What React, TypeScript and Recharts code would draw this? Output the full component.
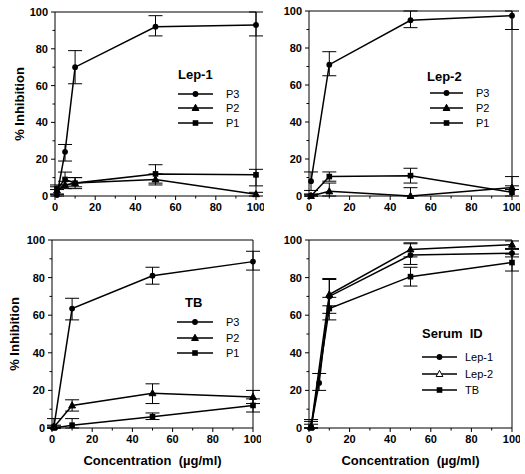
import { LineChart, Line, XAxis, YAxis, ErrorBar, ReferenceLine } from "recharts";

const FONT = '"Liberation Sans", Arial, Helvetica, sans-serif';

// concentrations (µg/ml)
const concWith5 = [1, 5, 10, 50, 100];
const concNo5 = [1, 10, 50, 100];

// Lep-1 serum, peptides P3 / P2 / P1
const lep1P3 = [0.5, 24, 70, 92, 93];
const lep1P3Err = [[0.5, 3], [5, 4], [9, 9], [5, 6], [6, 7]];
const lep1P2 = [3, 6, 7, 9, 1];
const lep1P2Err = [[2, 2], [2, 2], [3, 3], [3, 3], [1, 1]];
const lep1P1 = [4, 9, 7, 12, 11.5];
const lep1P1Err = [[3, 2], [3, 4], [2, 3], [5, 5], [6, 3]];

// Lep-2 serum
const lep2P3 = [8, 71, 95, 97.5];
const lep2P3Err = [[5, 5], [6, 7], [4, 5], [7.5, 2.5]];
const lep2P2 = [0, 2.5, 0, 4.5];
const lep2P2Err = [[0, 1], [2.5, 4.5], [0, 4.5], [1, 1]];
const lep2P1 = [0, 10.5, 11, 2];
const lep2P1Err = [[0, 1], [2.5, 2.5], [4, 4], [2, 8.5]];

// TB serum
const tbP3 = [1, 63.5, 81, 88.5];
const tbP3Err = [[1, 4], [6, 5.5], [4.5, 4.5], [4.5, 5.5]];
const tbP2 = [0.5, 12, 18.5, 16.5];
const tbP2Err = [[0.5, 1], [3, 3], [5.5, 5], [3.5, 3.5]];
const tbP1 = [0, 1.5, 6, 12];
const tbP1Err = [[0, 1], [1.5, 3.5], [1.5, 2], [3.5, 3.5]];

// P3 comparison by serum
const serumLep1 = [0.5, 24, 70, 92, 93];
const serumLep1Err = [[0.5, 3], [4, 5], [9, 9], [5, 6], [2, 2]];
const serumLep2 = [0.5, 71, 95, 97.5];
const serumLep2Err = [[0.5, 4], [6, 8.5], [4, 3.5], [2, 2]];
const serumTB = [0, 63.5, 80.5, 88];
const serumTBErr = [[0, 2], [6, 6], [5, 5], [4.5, 4.5]];

const axisTicks = [0, 10, 20, 30, 40, 50, 60, 70, 80, 90, 100];

type Shape = "circle" | "triangle" | "square" | "openTriangle";

type Series = { name: string; x: number[]; y: number[]; err: number[][]; shape: Shape };

const rows = (s: Series) => s.x.map((c, i) => ({ conc: c, value: s.y[i], err: s.err[i] }));

function Marker({ cx, cy, shape }: { cx: number; cy: number; shape: Shape }) {
  if (shape === "circle") return <circle cx={cx} cy={cy} r={2.9} fill="#000" />;
  if (shape === "square") return <rect x={cx - 2.8} y={cy - 2.8} width={5.6} height={5.6} fill="#000" />;
  const pts = `${cx},${cy - 3.7} ${cx - 3.4},${cy + 2.5} ${cx + 3.4},${cy + 2.5}`;
  return <polygon points={pts} fill={shape === "openTriangle" ? "#fff" : "#000"} stroke="#000" strokeWidth={1} />;
}

function XTick(props: any) {
  const { x, y, payload } = props;
  const major = payload.value % 20 === 0;
  return (
    <g>
      <line x1={x} x2={x} y1={y} y2={y + (major ? 4 : 2.5)} stroke="#000" />
      {major && (
        <text x={x} y={y + 15} textAnchor="middle" fontSize={11} fontWeight="bold" fontFamily={FONT} fill="#000">
          {payload.value}
        </text>
      )}
    </g>
  );
}

function YTick(props: any) {
  const { x, y, payload } = props;
  const major = payload.value % 20 === 0;
  return (
    <g>
      <line x1={x} x2={x - (major ? 4 : 2.5)} y1={y} y2={y} stroke="#000" />
      {major && (
        <text x={x - 7} y={y + 4} textAnchor="end" fontSize={11} fontWeight="bold" fontFamily={FONT} fill="#000">
          {payload.value}
        </text>
      )}
    </g>
  );
}

type PanelProps = {
  left: number;
  top: number;
  yw: number;
  mt: number;
  plotW: number;
  plotH: number;
  xh: number;
  series: Series[];
  yLabelX?: number;
  xLabel?: boolean;
};

function Panel({ left, top, yw, mt, plotW, plotH, xh, series, yLabelX, xLabel }: PanelProps) {
  const width = yw + plotW + 8;
  const height = mt + plotH + xh;
  return (
    <div style={{ position: "absolute", left, top }}>
      <LineChart width={width} height={height} margin={{ top: mt, right: 8, left: 0, bottom: 0 }}>
        <XAxis
          type="number"
          dataKey="conc"
          domain={[0, 100]}
          ticks={axisTicks}
          interval={0}
          tickSize={0}
          tickMargin={0}
          tickLine={false}
          tick={<XTick />}
          height={xh}
          stroke="#000"
          label={
            xLabel
              ? {
                  content: (p: any) => {
                    const vb = p.viewBox || {};
                    return (
                      <text
                        x={vb.x + vb.width / 2}
                        y={vb.y + 37}
                        textAnchor="middle"
                        fontSize={13}
                        fontWeight="bold"
                        fontFamily={FONT}
                        fill="#000"
                        style={{ whiteSpace: "pre" }}
                      >
                        {"Concentration  (µg/ml)"}
                      </text>
                    );
                  },
                }
              : undefined
          }
        />
        <YAxis
          type="number"
          domain={[0, 100]}
          ticks={axisTicks}
          interval={0}
          tickSize={0}
          tickMargin={0}
          tickLine={false}
          tick={<YTick />}
          width={yw}
          stroke="#000"
          label={
            yLabelX !== undefined
              ? {
                  content: (p: any) => {
                    const vb = p.viewBox || {};
                    const cy = vb.y + vb.height / 2;
                    return (
                      <text
                        x={yLabelX}
                        y={cy}
                        transform={`rotate(-90, ${yLabelX}, ${cy})`}
                        textAnchor="middle"
                        dominantBaseline="central"
                        fontSize={13}
                        fontWeight="bold"
                        fontFamily={FONT}
                        fill="#000"
                      >
                        % Inhibition
                      </text>
                    );
                  },
                }
              : undefined
          }
        />
        <ReferenceLine y={100} stroke="#000" strokeWidth={1} />
        <ReferenceLine x={100} stroke="#000" strokeWidth={1} />
        {series.map((s) => (
          <Line
            key={s.name}
            data={rows(s)}
            dataKey="value"
            name={s.name}
            stroke="#000"
            strokeWidth={1.5}
            isAnimationActive={false}
            dot={(d: any) => <Marker key={`${s.name}-${d.index}`} cx={d.cx} cy={d.cy} shape={s.shape} />}
          >
            <ErrorBar dataKey="err" width={7} stroke="#000" strokeWidth={1} direction="y" />
          </Line>
        ))}
      </LineChart>
    </div>
  );
}

type LegendProps = {
  title: string;
  titleX: number;
  titleY: number;
  rowsY: number[];
  lineX: [number, number];
  labelX: number;
  items: { label: string; shape: Shape }[];
};

function PanelLegend({ title, titleX, titleY, rowsY, lineX, labelX, items }: LegendProps) {
  const mid = (lineX[0] + lineX[1]) / 2;
  return (
    <g>
      <text x={titleX} y={titleY + 5} fontSize={13} fontWeight="bold" fontFamily={FONT} fill="#000" style={{ whiteSpace: "pre" }}>
        {title}
      </text>
      {items.map((it, i) => (
        <g key={it.label}>
          <line x1={lineX[0]} x2={lineX[1]} y1={rowsY[i]} y2={rowsY[i]} stroke="#000" strokeWidth={1.5} />
          <Marker cx={mid} cy={rowsY[i]} shape={it.shape} />
          <text x={labelX} y={rowsY[i] + 4} fontSize={11} fontFamily={FONT} fill="#000">
            {it.label}
          </text>
        </g>
      ))}
    </g>
  );
}

const pItems = [
  { label: "P3", shape: "circle" as Shape },
  { label: "P2", shape: "triangle" as Shape },
  { label: "P1", shape: "square" as Shape },
];

export default function App() {
  const lep1Series: Series[] = [
    { name: "P3", x: concWith5, y: lep1P3, err: lep1P3Err, shape: "circle" },
    { name: "P2", x: concWith5, y: lep1P2, err: lep1P2Err, shape: "triangle" },
    { name: "P1", x: concWith5, y: lep1P1, err: lep1P1Err, shape: "square" },
  ];
  const lep2Series: Series[] = [
    { name: "P3", x: concNo5, y: lep2P3, err: lep2P3Err, shape: "circle" },
    { name: "P2", x: concNo5, y: lep2P2, err: lep2P2Err, shape: "triangle" },
    { name: "P1", x: concNo5, y: lep2P1, err: lep2P1Err, shape: "square" },
  ];
  const tbSeries: Series[] = [
    { name: "P3", x: concNo5, y: tbP3, err: tbP3Err, shape: "circle" },
    { name: "P2", x: concNo5, y: tbP2, err: tbP2Err, shape: "triangle" },
    { name: "P1", x: concNo5, y: tbP1, err: tbP1Err, shape: "square" },
  ];
  const serumSeries: Series[] = [
    { name: "Lep-1", x: concWith5, y: serumLep1, err: serumLep1Err, shape: "circle" },
    { name: "Lep-2", x: concNo5, y: serumLep2, err: serumLep2Err, shape: "triangle" },
    { name: "TB", x: concNo5, y: serumTB, err: serumTBErr, shape: "square" },
  ];

  return (
    <div style={{ position: "absolute", left: 0, top: 0, width: 525, height: 474, background: "#fff" }}>
      <Panel left={0} top={0} yw={55} mt={12} plotW={201} plotH={184} xh={22} series={lep1Series} yLabelX={19} />
      <Panel left={270} top={0} yw={39} mt={11} plotW={203} plotH={185} xh={22} series={lep2Series} />
      <Panel left={0} top={222} yw={52} mt={18} plotW={201} plotH={188} xh={46} series={tbSeries} yLabelX={14} xLabel />
      <Panel left={270} top={222} yw={39} mt={18} plotW={203} plotH={188} xh={46} series={serumSeries} xLabel />
      <svg width={525} height={474} style={{ position: "absolute", left: 0, top: 0, pointerEvents: "none" }}>
        <PanelLegend title="Lep-1" titleX={178} titleY={74} rowsY={[94, 108, 123]} lineX={[178, 213]} labelX={226} items={pItems} />
        <PanelLegend title="Lep-2" titleX={427} titleY={76} rowsY={[93, 108, 123]} lineX={[430, 463]} labelX={476} items={pItems} />
        <PanelLegend title="TB" titleX={185} titleY={302} rowsY={[322, 338, 353]} lineX={[177, 213]} labelX={226} items={pItems} />
        <PanelLegend
          title="Serum  ID"
          titleX={422}
          titleY={333}
          rowsY={[357, 374, 390]}
          lineX={[422, 457]}
          labelX={465}
          items={[
            { label: "Lep-1", shape: "circle" },
            { label: "Lep-2", shape: "openTriangle" },
            { label: "TB", shape: "square" },
          ]}
        />
      </svg>
    </div>
  );
}
